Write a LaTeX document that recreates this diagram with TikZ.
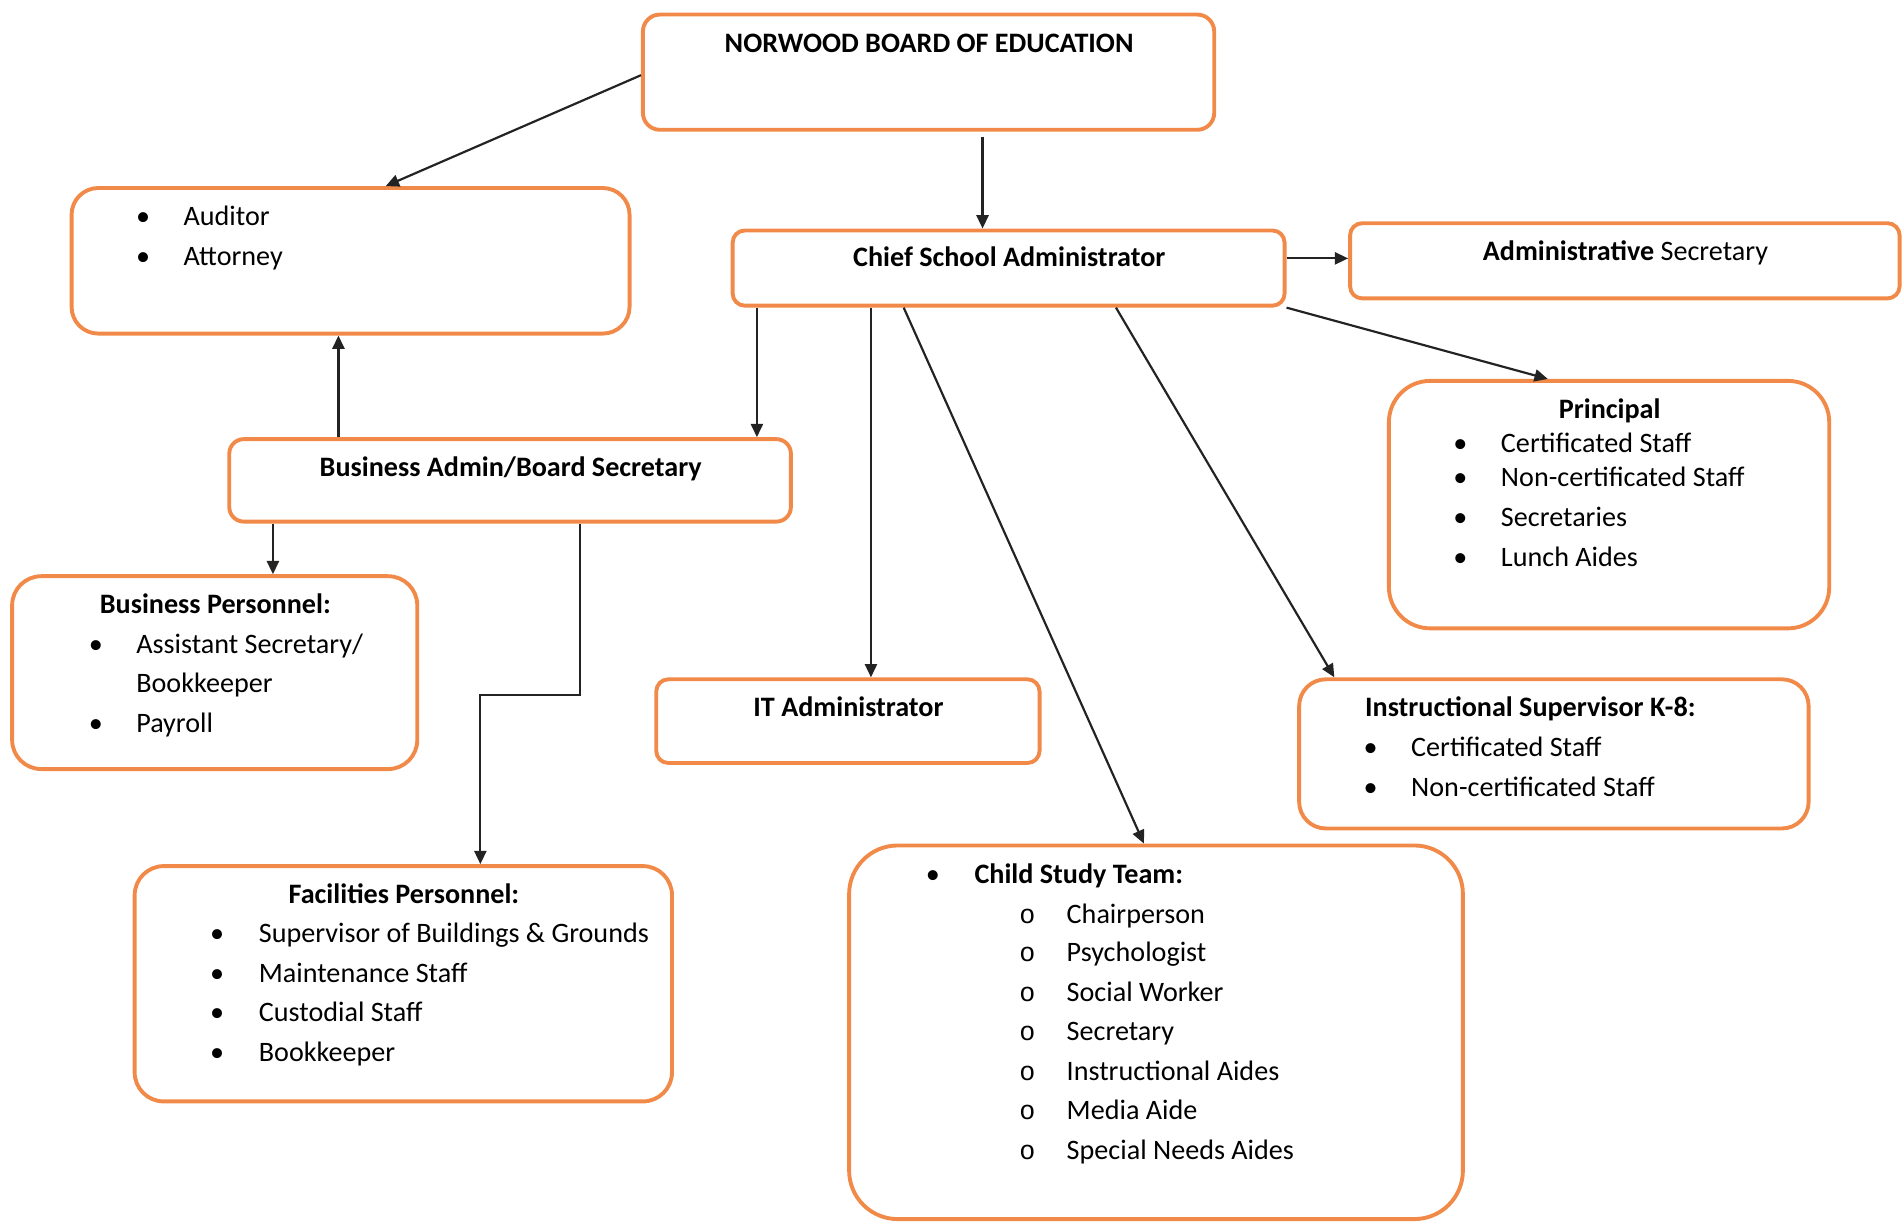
\documentclass[tikz,border=0pt]{standalone}
\usepackage{fontspec}
\setmainfont{Carlito}
\newfontfamily\monofont{Liberation Mono}
\usetikzlibrary{arrows.meta}
\definecolor{boxorange}{RGB}{241,138,72}
\definecolor{linkgray}{RGB}{35,35,35}

\begin{document}
\begin{tikzpicture}[x=0.5pt,y=0.5pt,yscale=-1,
  orgbox/.style={draw=boxorange, line width=1.6pt, rounded corners=#1, inner sep=0pt},
  orgbox/.default=5pt,
  link/.style={draw=linkgray, line width=0.9pt, -{Triangle[length=5.5pt,width=5pt]}},
  title/.style={anchor=base, inner sep=0pt, font=\fontsize{11.6}{14}\selectfont\bfseries},
  lefttitle/.style={anchor=base west, inner sep=0pt, font=\fontsize{11.6}{14}\selectfont\bfseries},
  item/.style={anchor=base west, inner sep=0pt, font=\fontsize{11.6}{14}\selectfont},
  dot/.style={anchor=base, inner sep=0pt, font=\fontsize{11.6}{14}\selectfont},
  ring/.style={anchor=base, inner sep=0pt, font=\fontsize{11}{12}\monofont}]
\useasboundingbox (0,0) rectangle (1568,1007);

%Box: board
\node[orgbox=7pt, minimum width=235.5pt, minimum height=47.5pt] (board) at (765.5,59.5) {};
\node[title] (boardtxt) at (766,43) {NORWOOD BOARD OF EDUCATION};

%Box: auditor / attorney
\node[orgbox=11pt, minimum width=230pt, minimum height=60pt] (audit) at (289,215) {};
\node[dot] (auddot1) at (118,186) {\textbullet};
\node[item] (audtxt1) at (151,186) {Auditor};
\node[dot] (auddot2) at (118,219) {\textbullet};
\node[item] (audtxt2) at (151,219) {Attorney};

%Box: chief school administrator
\node[orgbox, minimum width=227.5pt, minimum height=31pt] (chief) at (831.5,221) {};
\node[title] (chieftxt) at (832,220) {Chief School Administrator};

%Box: administrative secretary
\node[orgbox, minimum width=226.5pt, minimum height=31pt] (adsec) at (1339.5,215) {};
\node[title] (adsectxt) at (1340,215) {Administrative \mdseries Secretary};

%Box: principal
\node[orgbox=17pt, minimum width=181.5pt, minimum height=102pt] (princ) at (1326.5,416) {};
\node[title] (princtxt) at (1327,345) {Principal};
\node[dot] (princdot1) at (1204,373) {\textbullet};
\node[item] (princtxt1) at (1237,373) {Certificated Staff};
\node[dot] (princdot2) at (1204,401) {\textbullet};
\node[item] (princtxt2) at (1237,401) {Non-certificated Staff};
\node[dot] (princdot3) at (1204,434) {\textbullet};
\node[item] (princtxt3) at (1237,434) {Secretaries};
\node[dot] (princdot4) at (1204,467) {\textbullet};
\node[item] (princtxt4) at (1237,467) {Lunch Aides};

%Box: business admin
\node[orgbox=6pt, minimum width=231.5pt, minimum height=34pt] (busad) at (420.5,396) {};
\node[title] (busadtxt) at (421,393) {Business Admin/Board Secretary};

%Box: business personnel
\node[orgbox=12pt, minimum width=167pt, minimum height=79.5pt] (buspers) at (177,554.5) {};
\node[title] (buspertxt) at (177.5,506) {Business Personnel:};
\node[dot] (busdot1) at (79,539) {\textbullet};
\node[item] (bustxt1) at (112,539) {Assistant Secretary/};
\node[item] (bustxt2) at (112,571) {Bookkeeper};
\node[dot] (busdot3) at (79,604) {\textbullet};
\node[item] (bustxt3) at (112,604) {Payroll};

%Box: IT administrator
\node[orgbox, minimum width=158pt, minimum height=34.5pt] (itad) at (699,594.5) {};
\node[title] (itadtxt) at (699.5,591) {IT Administrator};

%Box: instructional supervisor
\node[orgbox=11pt, minimum width=210pt, minimum height=61.5pt] (instr) at (1281,621.5) {};
\node[lefttitle] (instrtxt) at (1125,591) {Instructional Supervisor K-8:};
\node[dot] (instrdot1) at (1130,624) {\textbullet};
\node[item] (instrtxt1) at (1163,624) {Certificated Staff};
\node[dot] (instrdot2) at (1130,657) {\textbullet};
\node[item] (instrtxt2) at (1163,657) {Non-certificated Staff};

%Box: facilities personnel
\node[orgbox=12pt, minimum width=221.5pt, minimum height=97pt] (facil) at (332.5,811) {};
\node[title] (faciltxt) at (333,745) {Facilities Personnel:};
\node[dot] (facdot1) at (179,777) {\textbullet};
\node[item] (factxt1) at (213,777) {Supervisor of Buildings \& Grounds};
\node[dot] (facdot2) at (179,810) {\textbullet};
\node[item] (factxt2) at (213,810) {Maintenance Staff};
\node[dot] (facdot3) at (179,842) {\textbullet};
\node[item] (factxt3) at (213,842) {Custodial Staff};
\node[dot] (facdot4) at (179,875) {\textbullet};
\node[item] (factxt4) at (213,875) {Bookkeeper};

%Box: child study team
\node[orgbox=20pt, minimum width=253pt, minimum height=154pt] (cst) at (953,851) {};
\node[dot] (cstdot) at (769,728) {\textbullet};
\node[lefttitle] (csttxt) at (803,728) {Child Study Team:};
\node[ring] (cstring1) at (847,761) {o};
\node[item] (csttxt1) at (879,761) {Chairperson};
\node[ring] (cstring2) at (847,793) {o};
\node[item] (csttxt2) at (879,793) {Psychologist};
\node[ring] (cstring3) at (847,826) {o};
\node[item] (csttxt3) at (879,826) {Social Worker};
\node[ring] (cstring4) at (847,858) {o};
\node[item] (csttxt4) at (879,858) {Secretary};
\node[ring] (cstring5) at (847,891) {o};
\node[item] (csttxt5) at (879,891) {Instructional Aides};
\node[ring] (cstring6) at (847,923) {o};
\node[item] (csttxt6) at (879,923) {Media Aide};
\node[ring] (cstring7) at (847,956) {o};
\node[item] (csttxt7) at (879,956) {Special Needs Aides};

%Connectors
\coordinate (facelbow) at (396,573);
\draw[link] (board.west |- 0,62) -- (audit.north -| 318,0);
\draw[link, shorten <=2pt] (board.south -| 810,0) -- (chief.north -| 810,0);
\draw[link] (chief.east |- 0,213) -- (adsec.west |- 0,213);
\draw[link] (chief.south east) -- (princ.north -| 1276,0);
\draw[link] (chief.south -| 624,0) -- (busad.north -| 624,0);
\draw[link] (chief.south -| 718,0) -- (itad.north -| 718,0);
\draw[link] (chief.south -| 745,0) -- (cst.north -| 943,0);
\draw[link] (chief.south -| 920,0) -- (instr.north -| 1100,0);
\draw[link] (busad.north -| 279,0) -- (audit.south -| 279,0);
\draw[link] (busad.south -| 225,0) -- (buspers.north -| 225,0);
\draw[link] (busad.south -| 478,0) |- (facelbow) -- (facil.north -| 396,0);

\end{tikzpicture}
\end{document}
